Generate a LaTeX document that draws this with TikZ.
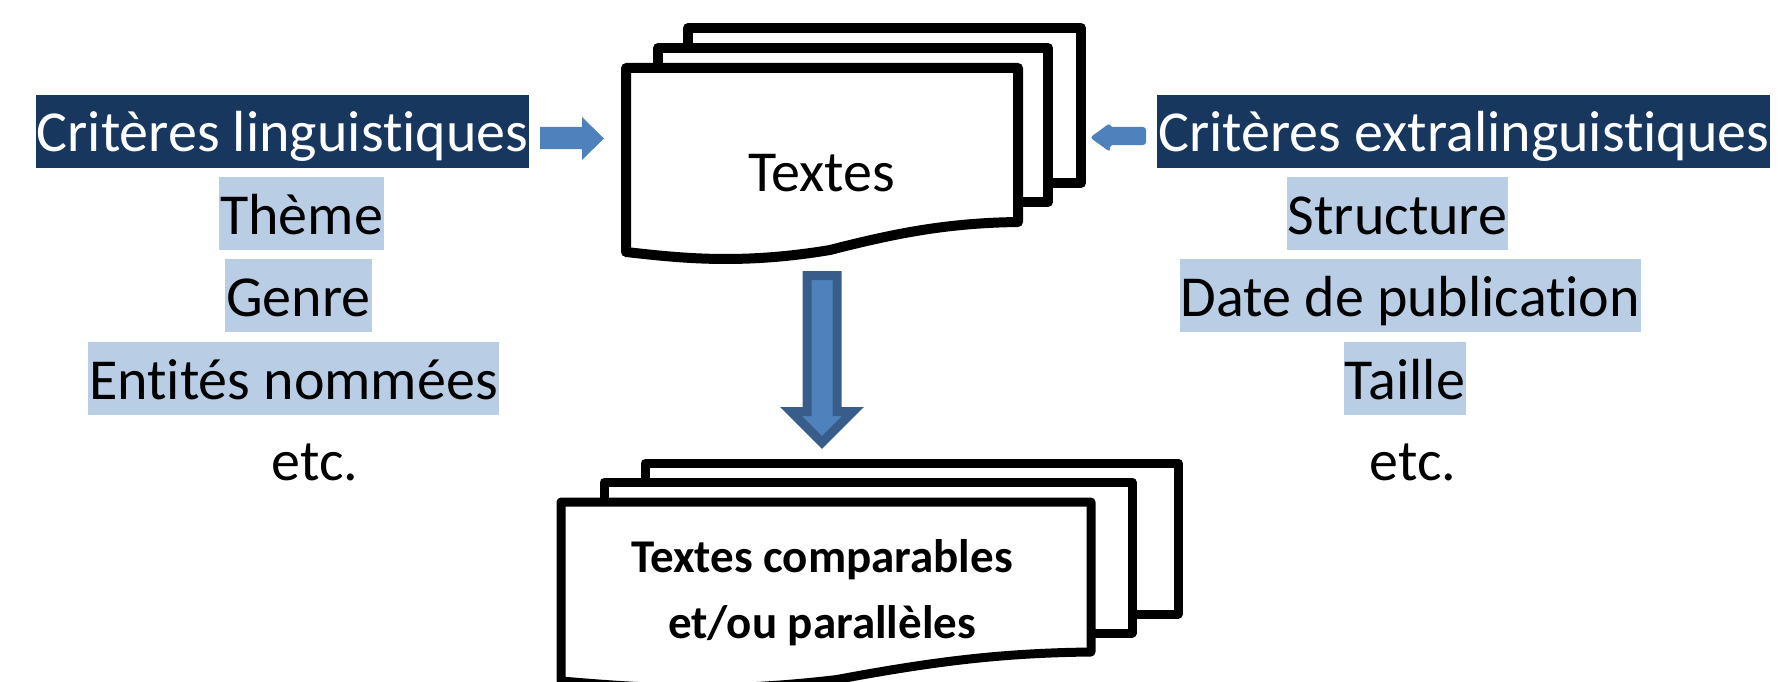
\documentclass[tikz,border=0pt]{standalone}
\usepackage{fontspec}
\setmainfont{Carlito}[Ligatures={NoCommon,NoContextual}, RawFeature={-liga;-calt;-clig;-dlig}]

\definecolor{navy}{RGB}{23,55,94}
\definecolor{lightblue}{RGB}{185,205,229}
\definecolor{arrowblue}{RGB}{79,129,189}
\definecolor{arrowedge}{RGB}{56,93,138}

\tikzset{
  header/.style={fill=navy, text=white, inner xsep=1pt, inner ysep=0pt,
    text height=56pt, text depth=17pt, font=\fontsize{58}{70}\selectfont},
  hl/.style={fill=lightblue, inner xsep=1pt, inner ysep=0pt,
    text height=57pt, text depth=16pt, font=\fontsize{58}{70}\selectfont},
  etcnode/.style={inner sep=0pt, font=\fontsize{58}{70}\selectfont},
  boldnode/.style={inner sep=0pt, font=\fontsize{47}{66}\selectfont\bfseries},
  docpage/.style={draw=black, fill=white, line width=10pt, line join=round},
}

\begin{document}
\begin{tikzpicture}[x=1pt,y=-1pt]
    \useasboundingbox (0,0) rectangle (1779,682);
    \clip (0,0) rectangle (1779,682);

    % Draw the stack of texts
    \draw[docpage] (688,28) rectangle (1081,183);
    \draw[docpage] (658,48) rectangle (1048,202);
    \draw[docpage] (626,68) -- (1018,68) -- (1018,222)
      .. controls (950,223) and (900,232) .. (830,250)
      .. controls (740,265) and (680,258) .. (626,252) -- cycle;
    \node[etcnode, anchor=base] (textes) at (822,191) {Textes};

    % Draw the stack of comparable texts
    \draw[docpage, line width=9pt] (645,463) rectangle (1178,614);
    \draw[docpage, line width=9pt] (604,482) rectangle (1132,633);
    \draw[docpage, line width=9pt] (561,502) -- (1091,502) -- (1091,652)
      .. controls (999,653) and (931,662) .. (837,679.5)
      .. controls (715,694) and (634,687) .. (561,681) -- cycle;
    \node[boldnode, anchor=base] (comp) at (822,572) {Textes comparables};
    \node[boldnode, anchor=base] (par) at (822,638) {et/ou parallèles};

    % Left criteria
    \node[header, anchor=base] (ling) at (282.5,151) {Critères linguistiques};
    \foreach \name/\cx/\by/\txt in {theme/301.5/234/Thème, genre/298.5/316/Genre,
      ent/293.5/399/Entités nommées}
      \node[hl, anchor=base] (\name) at (\cx,\by) {\txt};
    \node[etcnode, anchor=base] (etcL) at (315,480) {etc.};

    % Right criteria
    \node[header, anchor=base west] (extra) at (1157,151) {Critères extralinguistiques};
    \foreach \name/\cx/\by/\txt in {struct/1397.5/234/Structure,
      date/1410.5/316/Date de publication, taille/1405/399/Taille}
      \node[hl, anchor=base] (\name) at (\cx,\by) {\txt};
    \node[etcnode, anchor=base] (etcR) at (1413,480) {etc.};

    % Block arrows
    \fill[arrowblue] (540,127) -- (582,127) -- (582,117) -- (604,138.5)
      -- (582,160) -- (582,149) -- (540,149) -- cycle;
    \fill[arrowblue, rounded corners=3pt] (1146,127) -- (1110,127) -- (1110,123)
      -- (1090,137.5) -- (1110,152) -- (1110,145) -- (1146,145) -- cycle;
    \draw[arrowedge, fill=arrowblue, line width=9pt, line join=miter]
      (807,275.5) -- (837,275.5) -- (837,411.5) -- (853,411.5) -- (822,442.5)
      -- (791,411.5) -- (807,411.5) -- cycle;
  \end{tikzpicture}
\end{document}
